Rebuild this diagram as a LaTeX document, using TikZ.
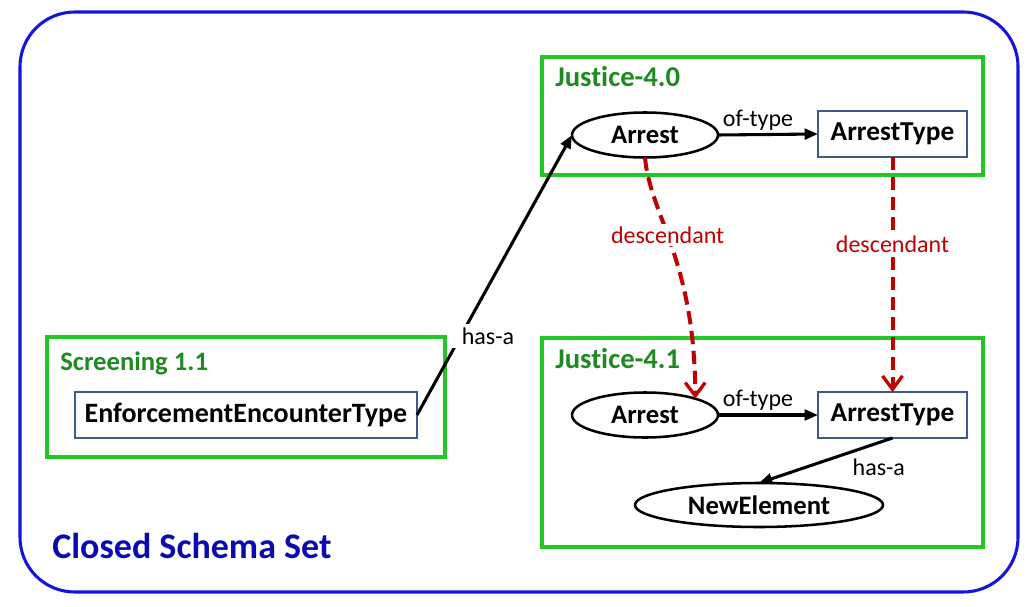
\documentclass[tikz,border=0pt]{standalone}
\usepackage{fontspec}
\setmainfont{Carlito}[Ligatures=NoCommon]
\usetikzlibrary{arrows.meta,shapes.geometric}
\definecolor{outerblue}{HTML}{1414DC}
\definecolor{titleblue}{HTML}{0A0AB0}
\definecolor{boxgreen}{HTML}{22C822}
\definecolor{titlegreen}{HTML}{1E8A22}
\definecolor{rectblue}{HTML}{3D5A8A}
\definecolor{descred}{HTML}{C00000}
\tikzset{
  grpbox/.style={draw=boxgreen, line width=3pt, inner sep=0pt, outer sep=0pt},
  grptitle/.style={text=titlegreen, font=\fontsize{20}{24}\selectfont\bfseries, anchor=base west, inner sep=0pt},
  elem/.style={draw, ellipse, line width=1.9pt, font=\fontsize{20}{24}\selectfont\bfseries, inner sep=0pt, outer sep=0pt},
  typebox/.style={draw=rectblue, rectangle, line width=1.5pt, font=\fontsize{20.5}{24}\selectfont\bfseries, inner sep=0pt, outer sep=0pt},
  lbl/.style={font=\fontsize{18}{21}\selectfont, inner sep=1pt},
  rel/.style={line width=2.3pt, -{Triangle[length=10pt,width=8pt]}},
  desc/.style={draw=descred, line width=3pt, dash pattern=on 10pt off 5pt, -{Straight Barb[length=10pt,width=15pt,line width=2.5pt]}},
  desclbl/.style={font=\fontsize{18}{21}\selectfont, text=descred, fill=white, inner sep=2pt}
}
\begin{document}
\begin{tikzpicture}[x=0.75pt,y=-0.75pt]
\useasboundingbox (0,0) rectangle (1030,606);
% outer set
\draw[outerblue, line width=2.3pt, rounded corners=41pt] (20,12) rectangle (1018,592);
\node[text=titleblue, font=\fontsize{27}{32}\selectfont\bfseries, anchor=base west, inner sep=0pt] (closed) at (52,558) {Closed Schema Set};
% group boxes
\node[grpbox, minimum width=330.75pt, minimum height=88.5pt] (j40) at (762.5,116) {};
\node[grpbox, minimum width=330.75pt, minimum height=156.75pt] (j41) at (762.5,442.5) {};
\node[grpbox, minimum width=298.5pt, minimum height=90pt] (scr) at (246,397) {};
\node[grptitle, font=\fontsize{21.5}{25}\selectfont\bfseries] (j40t) at (555,87) {Just\kern0pt ice-4.0};
\node[grptitle, font=\fontsize{21.5}{25}\selectfont\bfseries] (j41t) at (555,368) {Just\kern0pt ice-4.1};
\node[grptitle] (scrt) at (60,370) {Screening 1.1};
% elements
\node[elem, minimum width=109.5pt, minimum height=33.75pt] (a1) at (645,135) {Arrest};
\node[typebox, minimum width=111.75pt, minimum height=34.5pt] (at1) at (892.5,134) {ArrestType};
\node[elem, minimum width=109.5pt, minimum height=33.75pt] (a2) at (645,415) {Arrest};
\node[typebox, minimum width=111.75pt, minimum height=34.5pt] (at2) at (892.5,415) {ArrestType};
\node[elem, minimum width=186pt, minimum height=33pt] (ne) at (759,505) {NewElement};
\node[typebox, font=\fontsize{21}{25}\selectfont\bfseries, minimum width=256.5pt, minimum height=34.5pt] (eet) at (246,415) {EnforcementEncounterType};
% relations
\draw[rel] (a1.east) -- node[lbl, pos=0.4, above=1pt] (of1) {of-type} (at1.west);
\draw[rel] (a2.east) -- node[lbl, pos=0.4, above=1pt] (of2) {of-type} (at2.west);
\draw[rel] (at2.south) -- node[lbl, pos=0.3, anchor=north west, xshift=-2pt, yshift=-3pt] (ha2) {has-a} (ne.north);
\draw[rel] (eet.east) -- (a1.west);
\node[lbl, fill=white, inner xsep=9pt, inner ysep=3pt] (ha1) at (488,336) {has-a};
% descendants
\draw[desc] (a1.south) .. controls (650,215) and (695,260) .. node[desclbl, pos=0.44] (d1) {descendant} (a2.18);
\draw[desc] (at1.south) -- node[desclbl, pos=0.37] (d2) {descendant} (at2.north);
\end{tikzpicture}
\end{document}
